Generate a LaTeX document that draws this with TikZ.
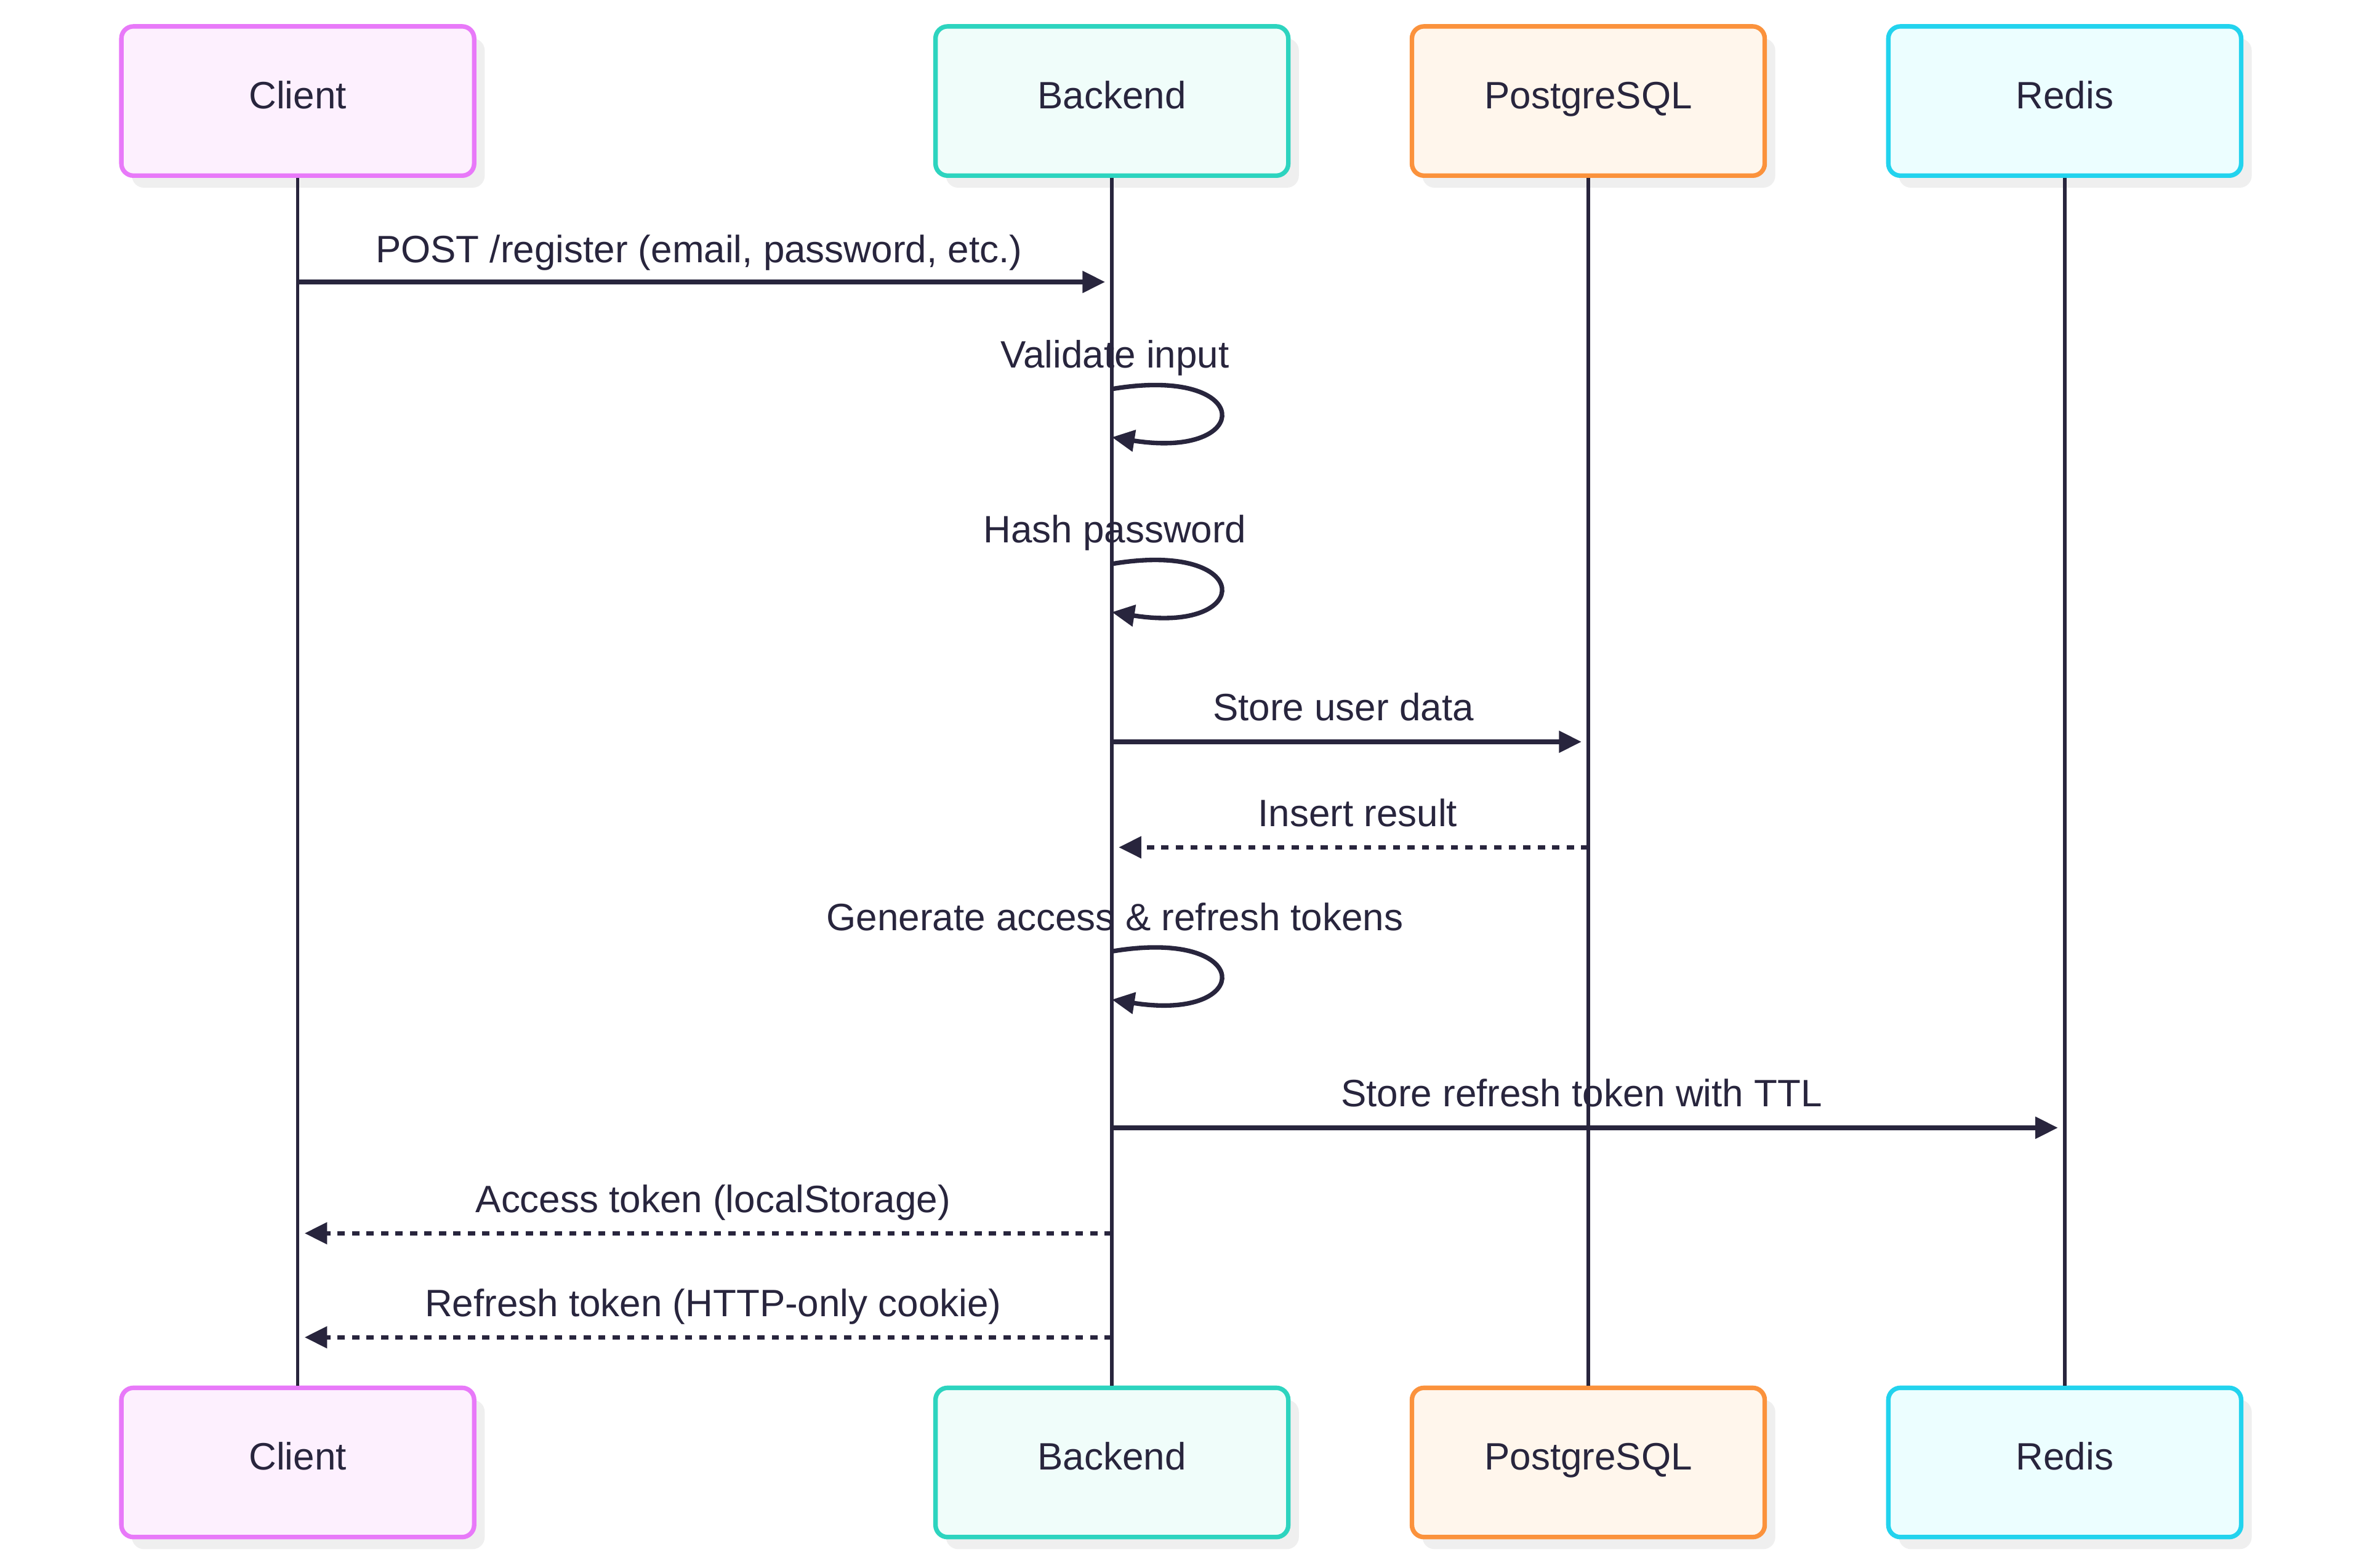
\documentclass[tikz,border=0pt]{standalone}
\usepackage{fontspec}
\setmainfont{Liberation Sans}
\usetikzlibrary{arrows.meta,shadows}
\definecolor{ink}{HTML}{28253D}
\definecolor{shade}{HTML}{EFEFEF}
\definecolor{cliS}{HTML}{E879F9}\definecolor{cliF}{HTML}{FDF0FE}
\definecolor{bakS}{HTML}{2DD4BF}\definecolor{bakF}{HTML}{F0FDFA}
\definecolor{pgS}{HTML}{FB923C}\definecolor{pgF}{HTML}{FFF6EC}
\definecolor{reS}{HTML}{22D3EE}\definecolor{reF}{HTML}{ECFEFF}
\tikzset{
  actor/.style={draw=#1S, fill=#1F, line width=1.5pt, rounded corners=4pt,
    minimum width=117pt, minimum height=49.5pt, inner sep=0pt, text=ink,
    text height=9pt, text depth=4pt,
    drop shadow={shadow xshift=3.5pt, shadow yshift=-4pt, fill=shade, opacity=1}},
  life/.style={draw=ink, line width=1.1pt},
  msg/.style={draw=ink, line width=1.5pt, -{Triangle[length=7.5pt,width=7pt]}},
  reply/.style={msg, dash pattern=on 2.4pt off 2.4pt},
  lbl/.style={anchor=base, inner sep=0pt, text=ink},
}
\begin{document}
\begin{tikzpicture}[x=0.5pt,y=-0.5pt,font=\fontsize{12.65}{15}\selectfont]
\useasboundingbox[fill=white] (0,0) rectangle (1568,1040);
% actors
\node[actor=cli] (cT) at (197.5,67) {Client};
\node[actor=bak] (bT) at (737.5,67) {Backend};
\node[actor=pg]  (pT) at (1053.5,67) {PostgreSQL};
\node[actor=re]  (rT) at (1369.5,67) {Redis};
\node[actor=cli] (cB) at (197.5,970) {Client};
\node[actor=bak] (bB) at (737.5,970) {Backend};
\node[actor=pg]  (pB) at (1053.5,970) {PostgreSQL};
\node[actor=re]  (rB) at (1369.5,970) {Redis};
% lifelines
\draw[life] (cT) -- (cB);
\draw[life] (bT) -- (bB);
\draw[life] (pT) -- (pB);
\draw[life] (rT) -- (rB);
% message end points
\coordinate (m1s) at (197.5,187);  \coordinate (m1e) at (733,187);
\coordinate (l1s) at (737.5,258);  \coordinate (l1e) at (737.5,290);
\coordinate (l2s) at (737.5,374);  \coordinate (l2e) at (737.5,406);
\coordinate (m4s) at (737.5,492);  \coordinate (m4e) at (1049,492);
\coordinate (m5s) at (1053.5,562); \coordinate (m5e) at (742,562);
\coordinate (l3s) at (737.5,631);  \coordinate (l3e) at (737.5,663);
\coordinate (m7s) at (737.5,748);  \coordinate (m7e) at (1365,748);
\coordinate (m8s) at (737.5,818);  \coordinate (m8e) at (202,818);
\coordinate (m9s) at (737.5,887);  \coordinate (m9e) at (202,887);
% messages
\draw[msg] (m1s) -- (m1e);
\node[lbl] (t1) at (463.5,174) {POST /register (email, password, etc.)};
\draw[msg] (l1s) .. controls +(95,-16) and +(95,15) .. (l1e);
\node[lbl] (t2) at (739.5,244) {Validate input};
\draw[msg] (l2s) .. controls +(95,-16) and +(95,15) .. (l2e);
\node[lbl] (t3) at (739.5,360) {Hash password};
\draw[msg] (m4s) -- (m4e);
\node[lbl] (t4) at (891,478) {Store user data};
\draw[reply] (m5s) -- (m5e);
\node[lbl] (t5) at (900.5,548) {Insert result};
\draw[msg] (l3s) .. controls +(95,-16) and +(95,15) .. (l3e);
\node[lbl] (t6) at (739.5,617) {Generate access \& refresh tokens};
\draw[msg] (m7s) -- (m7e);
\node[lbl] (t7) at (1049,734) {Store refresh token with TTL};
\draw[reply] (m8s) -- (m8e);
\node[lbl] (t8) at (473,804) {Access token (localStorage)};
\draw[reply] (m9s) -- (m9e);
\node[lbl] (t9) at (473,873) {Refresh token (HTTP-only cookie)};
\end{tikzpicture}
\end{document}
